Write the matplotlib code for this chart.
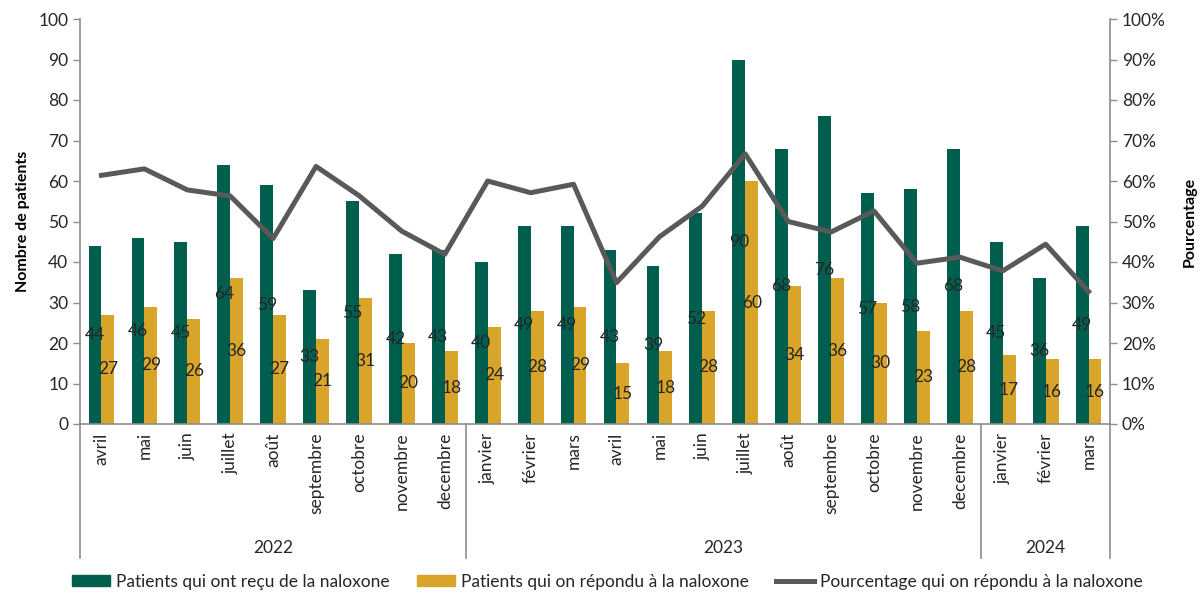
import matplotlib
matplotlib.use("Agg")
import matplotlib.pyplot as plt
import matplotlib.transforms as mtransforms
from matplotlib.patches import Patch
from matplotlib.lines import Line2D
from matplotlib.ticker import FuncFormatter, MultipleLocator
import numpy as np

plt.rcParams['font.family'] = ['Lato', 'DejaVu Sans']

months = ["avril", "mai", "juin", "juillet", "août", "septembre", "octobre",
          "novembre", "decembre",
          "janvier", "février", "mars", "avril", "mai", "juin", "juillet",
          "août", "septembre", "octobre", "novembre", "decembre",
          "janvier", "février", "mars"]
years = ["2022", "2023", "2024"]
months_per_year = [9, 12, 3]

received = [44, 46, 45, 64, 59, 33, 55, 42, 43,
            40, 49, 49, 43, 39, 52, 90, 68, 76, 57, 58, 68,
            45, 36, 49]
responded = [27, 29, 26, 36, 27, 21, 31, 20, 18,
             24, 28, 29, 15, 18, 28, 60, 34, 36, 30, 23, 28,
             17, 16, 16]
pct_responded = [61.4, 63.0, 57.8, 56.3, 45.8, 63.6, 56.4, 47.6, 41.9,
                 60.0, 57.1, 59.2, 34.9, 46.2, 53.8, 66.7, 50.0, 47.4,
                 52.6, 39.7, 41.2, 37.8, 44.4, 32.7]

green = "#005E4F"
gold = "#D9A42A"
line_col = "#595959"
axis_col = "#8C8C8C"
text_col = "#262626"

fig = plt.figure(figsize=(12.03, 5.98), dpi=100)
ax = fig.add_axes([80 / 1203, 1 - 424 / 598, 1030 / 1203, 405 / 598])
ax2 = ax.twinx()

x = np.arange(len(months))
w = 0.30
b1 = ax.bar(x - w / 2, received, width=w, color=green, zorder=2)
b2 = ax.bar(x + w / 2, responded, width=w, color=gold, zorder=2)
ax.bar_label(b1, label_type='center', fontsize=12.5, color=text_col)
ax.bar_label(b2, label_type='center', fontsize=12.5, color=text_col)

ax2.plot(x, pct_responded, color=line_col, lw=3.6, solid_joinstyle='round',
         zorder=3)

ax.set_xlim(-0.5, len(months) - 0.5)
ax.set_ylim(0, 100)
ax.yaxis.set_major_locator(MultipleLocator(10))
ax2.set_ylim(0, 100)
ax2.yaxis.set_major_locator(MultipleLocator(10))
ax2.yaxis.set_major_formatter(FuncFormatter(lambda v, p: f"{v:.0f}%"))

ax.set_xticks(x)
ax.set_xticklabels(months, rotation=90, fontsize=12.5, color=text_col)
ax.tick_params(axis='x', length=0, pad=6)
ax.tick_params(axis='y', length=5, color=axis_col, labelsize=12.5,
               labelcolor=text_col, width=1)
ax2.tick_params(axis='y', length=5, color=axis_col, labelsize=12.5,
                labelcolor=text_col, width=1)

for a in (ax, ax2):
    a.spines['top'].set_visible(False)
    for s in ('left', 'right', 'bottom'):
        a.spines[s].set_color(axis_col)
        a.spines[s].set_linewidth(1.2)
ax.spines['right'].set_visible(False)
ax2.spines['left'].set_visible(False)
ax2.spines['bottom'].set_visible(False)

ax.set_ylabel("Nombre de patients", fontsize=11.5, fontweight='bold',
              color='black', labelpad=6)
ax2.set_ylabel("Pourcentage", fontsize=11.5, fontweight='bold',
               color='black', labelpad=12)

# year groups below the month labels
trans = mtransforms.blended_transform_factory(ax.transData, ax.transAxes)
bounds = np.concatenate([[0], np.cumsum(months_per_year)]) - 0.5
for b in bounds:
    ax.add_line(Line2D([b, b], [0, -0.33], transform=trans, color=axis_col,
                       lw=1.2, clip_on=False))
for yr, lo, hi in zip(years, bounds[:-1], bounds[1:]):
    ax.text((lo + hi) / 2, -0.305, yr, transform=trans, ha='center',
            va='center', fontsize=12.5, color=text_col)

handles = [Patch(color=green), Patch(color=gold),
           Line2D([], [], color=line_col, lw=3.6)]
labels = ["Patients qui ont reçu de la naloxone",
          "Patients qui on répondu à la naloxone",
          "Pourcentage qui on répondu à la naloxone"]
fig.legend(handles, labels, loc='center', bbox_to_anchor=(0.505, 1 - 582 / 598),
           ncol=3, frameon=False, fontsize=12.5, handlelength=2.2,
           handleheight=0.6, columnspacing=1.55, handletextpad=0.35,
           labelcolor=text_col)

fig.savefig("out.png", dpi=100)
